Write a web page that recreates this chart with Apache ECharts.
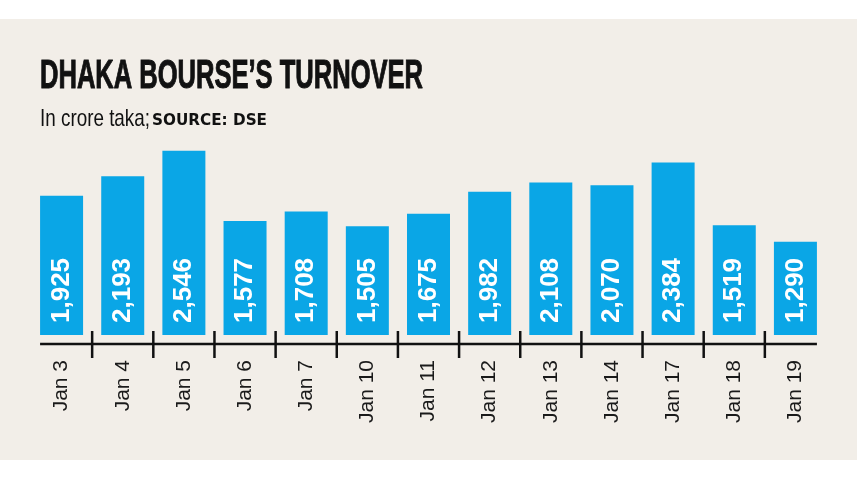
<!DOCTYPE html>
<html>
<head>
<meta charset="utf-8">
<script src="https://cdn.jsdelivr.net/npm/echarts@6/dist/echarts.min.js"></script>
<style>
html, body { margin: 0; padding: 0; background: #fff; }
#wrap { position: relative; width: 857px; height: 482px; }
#paper { position: absolute; left: 0; top: 19px; width: 857px; height: 441px; background: #f2eee8; }
#chart { position: absolute; left: 0; top: 0; width: 857px; height: 482px; }
</style>
</head>
<body>
<div id="wrap"><div id="paper"></div><div id="chart"></div></div>
<script>
var days = ['Jan 3', 'Jan 4', 'Jan 5', 'Jan 6', 'Jan 7', 'Jan 10', 'Jan 11',
            'Jan 12', 'Jan 13', 'Jan 14', 'Jan 17', 'Jan 18', 'Jan 19'];
var turnover = [1925, 2193, 2546, 1577, 1708, 1505, 1675, 1982, 2108, 2070, 2384, 1519, 1290];

var titleText = 'DHAKA BOURSE\u2019S TURNOVER';
var unitText = 'In crore taka;';
var sourceText = 'SOURCE: DSE';

var sans = '"Liberation Sans", Arial, sans-serif';
var barW = 43;

// squeeze text horizontally to the width it has in the print graphic
function fit(text, font, width) {
	var ctx = document.createElement('canvas').getContext('2d');
	ctx.font = font;
	return width / ctx.measureText(text).width;
}

var myChart = echarts.init(document.getElementById('chart'));

option = {
	backgroundColor: 'transparent',
	animation: false,
	grid: { left: 31, right: 31, top: 118, bottom: 147 },
	xAxis: {
		type: 'category',
		data: days,
		axisLine: { show: false },
		axisTick: { show: false },
		axisLabel: {
			rotate: 90,
			margin: 25,
			color: '#1a1a1a',
			fontFamily: sans,
			fontSize: 21
		}
	},
	yAxis: { type: 'value', min: 0, max: 3000, show: false },
	series: [{
		type: 'bar',
		data: turnover,
		barWidth: barW,
		itemStyle: { color: '#0aa6e6' },
		label: {
			show: true,
			position: 'insideBottom',
			distance: 12,
			rotate: 90,
			align: 'left',
			verticalAlign: 'middle',
			color: '#fff',
			fontFamily: sans,
			fontWeight: 'bold',
			fontSize: 26,
			formatter: function (p) {
				return String(p.value).replace(/\B(?=(\d{3})+(?!\d))/g, ',');
			}
		}
	}]
};
myChart.setOption(option);

// axis line + ticks between categories
var base = myChart.convertToPixel({ yAxisIndex: 0 }, 0);
var first = myChart.convertToPixel({ xAxisIndex: 0 }, 0);
var last = myChart.convertToPixel({ xAxisIndex: 0 }, days.length - 1);
var axisY = base + 9;
var g = [];
g.push({
	type: 'line',
	shape: { x1: first - barW / 2, y1: axisY, x2: last + barW / 2, y2: axisY },
	style: { stroke: '#111', lineWidth: 2.5 }
});
for (var i = 1; i < days.length; i++) {
	var x = (myChart.convertToPixel({ xAxisIndex: 0 }, i - 1) + myChart.convertToPixel({ xAxisIndex: 0 }, i)) / 2;
	g.push({
		type: 'line',
		shape: { x1: x, y1: axisY - 13, x2: x, y2: axisY + 14 },
		style: { stroke: '#111', lineWidth: 2.5 }
	});
}

var titleFont = 'bold 40px ' + sans;
var unitFont = '24px ' + sans;
var srcFont = 'bold 15px "DejaVu Sans", Verdana, sans-serif';
g.push({
	type: 'text', x: 40, y: 77, scaleX: fit(titleText, titleFont, 383),
	style: { text: titleText, font: titleFont, fill: '#111', stroke: '#111', lineWidth: 1, verticalAlign: 'middle' }
});
g.push({
	type: 'text', x: 40, y: 119, scaleX: fit(unitText, unitFont, 110),
	style: { text: unitText, font: unitFont, fill: '#111', verticalAlign: 'middle' }
});
g.push({
	type: 'text', x: 152, y: 121, scaleX: fit(sourceText, srcFont, 115),
	style: { text: sourceText, font: srcFont, fill: '#111', verticalAlign: 'middle' }
});

myChart.setOption({ graphic: g });
</script>
</body>
</html>
